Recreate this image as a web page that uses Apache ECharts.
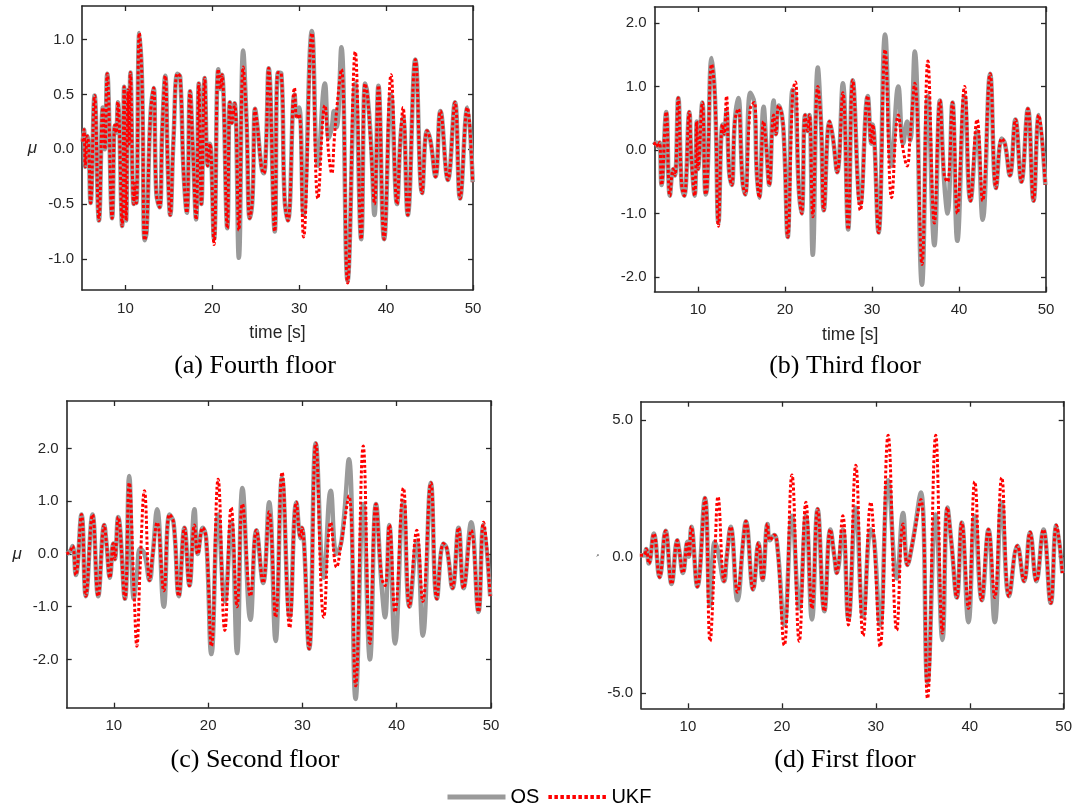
<!DOCTYPE html>
<html>
<head>
<meta charset="utf-8">
<script src="https://cdn.jsdelivr.net/npm/echarts@6/dist/echarts.min.js"></script>
<style>html,body{margin:0;padding:0;background:#fff;}#c{width:1081px;height:807px;}</style>
</head>
<body>
<div id="c"></div>
<script>
// ---------- data (extrema) ----------
const xTicks = [10, 20, 30, 40, 50];
const yTicksA = [-1.0, -0.5, 0.0, 0.5, 1.0];
const yTicksB = [-2.0, -1.0, 0.0, 1.0, 2.0];
const yTicksC = [-2.0, -1.0, 0.0, 1.0, 2.0];
const yTicksD = [-5.0, 0.0, 5.0];

// (a) Fourth floor
const tA = [5.08,5.23,5.38,5.61,5.76,5.99,6.45,6.95,7.40,7.63,
 7.90,8.47,8.78,8.93,9.12,9.62,9.85,10.08,10.31,10.44,
 10.57,10.95,11.11,11.26,11.60,11.91,12.21,12.44,12.86,13.24,
 13.55,13.93,14.24,14.58,14.89,15.15,15.53,15.99,16.30,16.68,
 17.06,17.44,17.75,18.13,18.44,18.74,19.12,19.47,19.73,20.19,
 20.69,20.95,21.11,21.72,22.02,22.25,22.56,23.05,23.55,23.93,
 24.31,24.62,24.92,25.19,25.65,25.92,26.15,26.49,27.18,27.56,
 27.94,28.32,28.70,29.46,29.73,30.00,30.50,31.46,32.15,32.95,
 33.40,33.75,34.00,34.30,34.85,35.57,36.45,37.13,37.58,37.85,
 38.27,38.66,39.12,39.77,40.57,41.25,41.65,41.95,42.49,43.37,
 44.14,44.71,45.10,45.69,46.25,47.11,47.93,48.51,49.35,49.96];
const osA = [0.07,0.18,-0.16,0.12,0.05,-0.49,0.49,-0.65,0.38,0.00,
 0.69,-0.63,0.22,0.15,0.43,-0.70,0.57,-0.65,0.54,0.05,
 0.70,-0.50,-0.31,-0.49,1.06,0.62,-0.83,-0.75,0.28,0.56,
 -0.40,-0.53,0.19,0.67,-0.19,-0.60,0.09,0.69,0.66,-0.19,
 -0.58,0.53,0.02,-0.64,0.60,-0.50,0.65,-0.15,0.05,-0.82,
 0.73,0.55,0.68,-0.72,0.43,0.24,0.42,-0.99,0.90,0.27,
 -0.63,-0.45,0.37,0.21,-0.16,-0.22,-0.04,0.74,-0.75,0.70,
 0.69,-0.46,-0.65,0.50,0.30,0.38,-0.60,1.08,-0.15,0.60,
 0.10,0.20,0.35,0.20,0.93,-1.20,0.60,-0.82,0.60,0.50,
 0.05,-0.60,0.58,-0.82,0.50,-0.50,0.10,0.30,-0.60,0.82,
 -0.40,0.17,0.08,-0.25,0.35,-0.28,0.43,-0.45,0.38,-0.30];
const ukfA = [0.07,0.18,-0.16,0.12,0.05,-0.49,0.49,-0.65,0.38,0.00,
 0.69,-0.63,0.22,0.15,0.43,-0.70,0.57,-0.65,0.54,0.05,
 0.70,-0.50,-0.31,-0.49,1.06,0.62,-0.83,-0.75,0.28,0.56,
 -0.40,-0.53,0.19,0.67,-0.19,-0.60,0.09,0.69,0.66,-0.19,
 -0.58,0.53,0.02,-0.64,0.60,-0.50,0.65,-0.15,0.05,-0.87,
 0.73,0.55,0.68,-0.72,0.43,0.24,0.42,-0.74,0.75,0.27,
 -0.63,-0.45,0.37,0.21,-0.16,-0.22,-0.04,0.74,-0.75,0.70,
 0.69,-0.46,-0.65,0.56,0.28,0.32,-0.80,1.06,-0.45,0.40,
 -0.05,-0.22,0.05,0.35,0.73,-1.22,0.89,-0.82,0.60,0.50,
 0.00,-0.50,0.58,-0.82,0.68,-0.50,0.10,0.38,-0.60,0.82,
 -0.40,0.17,0.08,-0.25,0.35,-0.28,0.43,-0.45,0.38,-0.30];

// (b) Third floor
const tB = [4.92,5.19,5.42,5.58,5.81,6.35,6.77,7.15,7.35,7.73,
 8.12,8.42,9.00,9.23,9.62,9.85,10.00,10.50,10.88,11.04,
 11.58,11.96,12.35,12.81,13.00,13.27,13.58,13.88,14.23,14.62,
 15.12,15.42,16.00,16.46,16.75,17.04,17.54,17.88,18.19,18.69,
 18.96,19.27,19.65,19.92,20.31,20.88,21.19,21.58,21.92,22.31,
 22.60,22.81,23.19,23.77,24.15,24.46,25.12,25.50,26.00,26.65,
 27.26,27.79,28.66,29.51,29.92,30.08,30.75,31.51,32.26,33.02,
 33.58,34.04,34.38,34.91,35.74,36.42,37.17,37.81,38.30,38.68,
 39.25,39.81,40.64,41.32,42.08,42.72,43.58,44.26,44.91,45.28,
 45.85,46.49,47.17,47.92,48.57,49.17,49.92];
const osB = [0.08,0.12,0.05,0.12,-0.55,0.60,-0.72,-0.30,-0.40,0.82,
 -0.55,-0.72,0.60,-0.10,-0.72,0.45,-0.30,0.75,-0.70,-0.60,
 1.45,0.80,-1.15,0.40,0.25,0.62,-0.35,-0.55,0.45,0.82,
 -0.50,-0.70,0.90,0.75,-0.35,-0.75,0.68,0.00,-0.55,0.78,
 0.25,0.70,0.55,0.05,-1.37,0.95,0.85,-0.60,-1.00,0.55,
 0.30,0.55,-1.65,1.30,0.40,-0.95,0.45,0.20,-0.35,1.05,
 -1.25,1.10,-0.85,0.85,0.10,0.40,-1.30,1.82,-0.25,1.00,
 0.10,0.45,0.15,1.55,-2.12,0.85,-1.50,0.78,-0.50,-1.00,
 0.75,-1.43,0.85,-0.80,0.30,-1.10,1.20,-0.60,0.18,0.10,
 -0.40,0.48,-0.50,0.65,-0.80,0.55,-0.55];
const ukfB = [0.08,0.12,0.05,0.12,-0.55,0.60,-0.72,-0.30,-0.40,0.82,
 -0.55,-0.72,0.60,-0.10,-0.72,0.45,-0.30,0.75,-0.70,-0.60,
 1.35,0.80,-1.20,0.40,0.25,0.85,-0.35,-0.55,0.45,0.65,
 -0.50,-0.70,0.65,0.75,-0.35,-0.75,0.45,0.00,-0.55,0.55,
 0.25,0.70,0.55,0.05,-1.37,0.90,1.07,-0.60,-1.00,0.55,
 0.30,0.55,-1.05,1.00,0.40,-0.95,0.45,0.20,-0.35,0.90,
 -1.25,1.10,-0.95,0.85,0.10,0.40,-1.30,1.58,-0.75,0.55,
 0.00,-0.25,0.20,1.05,-1.80,1.40,-1.15,0.78,-0.40,-0.50,
 0.75,-1.00,1.00,-0.80,0.48,-0.80,1.20,-0.60,0.18,0.10,
 -0.40,0.48,-0.50,0.65,-0.80,0.55,-0.55];

// (c) Second floor
const tC = [4.98,5.34,5.62,5.97,6.57,7.03,7.74,8.34,8.98,9.22,
 9.58,9.93,10.10,10.46,11.17,11.63,12.12,12.44,12.80,13.25,
 13.79,14.13,14.59,15.30,15.90,16.33,16.89,17.49,18.02,18.55,
 18.90,19.43,19.79,20.35,21.06,21.77,22.45,23.07,23.64,24.49,
 25.12,25.83,26.47,27.16,27.84,28.65,29.36,29.80,29.95,30.71,
 31.42,32.27,33.00,33.62,34.15,34.93,35.64,36.45,37.16,37.80,
 38.40,38.76,39.22,39.82,40.71,41.35,42.13,42.77,43.62,44.26,
 44.96,45.32,45.92,46.56,47.09,47.90,48.67,49.20,49.91];
const osC = [0.00,0.05,0.15,-0.40,0.75,-0.80,0.75,-0.80,0.55,0.20,
 -0.45,0.20,-0.10,0.70,-0.85,1.48,-0.85,-0.40,0.10,0.00,
 -0.50,0.00,0.85,-1.00,0.75,0.60,-0.80,0.50,-0.60,0.85,
 0.00,0.50,0.30,-1.90,0.75,-0.90,0.60,-1.88,1.25,-1.25,
 0.45,-0.55,0.98,-1.65,1.45,-1.20,0.98,0.30,0.50,-1.80,
 2.10,-0.45,1.20,0.00,0.25,1.80,-2.75,0.95,-2.00,0.95,
 -0.60,-1.20,0.55,-1.70,1.00,-1.00,0.25,-1.55,1.35,-0.85,
 0.20,0.10,-0.65,0.50,-0.65,0.60,-1.10,0.55,-0.80];
const ukfC = [0.00,0.05,0.15,-0.40,0.75,-0.80,0.75,-0.80,0.55,0.20,
 -0.45,0.20,-0.10,0.70,-0.85,1.35,-0.60,-1.75,-0.20,1.20,
 -0.50,0.00,0.60,-0.70,0.75,0.60,-0.80,0.50,-0.60,0.55,
 0.00,0.50,0.30,-1.75,1.42,-1.45,0.88,-1.00,0.95,-0.80,
 0.45,-0.55,0.80,-1.20,1.55,-1.40,0.98,0.30,0.50,-1.80,
 2.10,-1.20,0.60,-0.25,0.25,1.10,-2.50,2.05,-1.70,0.95,
 -0.45,-0.60,0.55,-1.10,1.25,-1.00,0.45,-0.90,1.35,-0.85,
 0.20,0.10,-0.65,0.50,-0.65,0.45,-1.10,0.60,-0.80];

// (d) First floor
const tD = [4.88,5.30,5.55,5.84,6.37,6.98,7.62,8.26,8.86,9.04,
 9.47,9.93,10.11,10.36,11.00,11.81,12.35,12.85,13.20,13.84,
 14.13,14.55,15.27,15.91,16.16,16.94,17.51,17.94,18.47,18.72,
 19.18,19.54,20.25,21.07,21.85,22.56,23.20,23.80,24.52,25.16,
 25.59,25.84,26.48,27.08,27.86,28.65,29.47,29.82,30.46,31.31,
 32.23,32.90,33.37,33.90,34.79,35.50,36.38,37.09,37.62,38.05,
 38.62,39.15,39.86,40.53,41.28,41.99,42.66,43.40,44.18,45.07,
 45.78,46.42,47.09,47.84,48.62,49.22,49.86];
const osD = [0.05,0.05,0.28,-0.25,0.85,-0.75,0.95,-1.00,0.60,0.30,
 -0.60,0.55,0.00,1.10,-1.10,2.15,-1.80,0.55,0.20,-0.90,
 0.00,1.10,-1.60,0.70,1.30,-1.20,0.50,-0.85,1.20,0.60,
 0.80,0.30,-2.50,1.50,-1.90,1.50,-2.30,1.75,-2.00,1.00,
 0.00,-0.60,1.00,-2.30,1.80,-2.20,1.00,0.60,-2.50,2.80,
 -0.80,1.60,-0.30,0.50,2.35,-4.60,1.55,-3.05,1.80,0.50,
 -1.50,1.25,-2.40,1.50,-1.60,1.00,-2.40,2.00,-1.45,0.40,
 -0.90,0.90,-0.90,1.00,-1.70,1.15,-0.60];
const ukfD = [0.05,0.05,0.28,-0.25,0.85,-0.75,0.95,-1.00,0.60,0.30,
 -0.60,0.55,0.00,1.10,-1.10,2.15,-3.10,0.00,2.20,-0.90,
 0.00,1.10,-1.30,0.70,1.30,-1.20,0.50,-0.85,1.20,0.60,
 0.80,0.30,-3.25,3.00,-3.10,2.00,-1.90,1.75,-2.00,1.00,
 0.00,-0.60,1.50,-2.50,3.35,-2.90,2.00,0.60,-3.30,4.45,
 -2.70,1.20,-0.30,0.50,2.10,-5.20,4.45,-2.80,1.80,0.50,
 -1.50,1.25,-1.90,2.75,-1.60,1.00,-1.50,2.90,-1.45,0.40,
 -0.90,0.90,-0.90,1.00,-1.70,1.15,-0.60];

const captions = ['(a) Fourth floor', '(b) Third floor', '(c) Second floor', '(d) First floor'];
const seriesNames = ['OS', 'UKF'];

// ---------- layout / style ----------
const panels = [
  {grid:{left:82, top:6, width:391, height:284}, ymin:-1.284, ymax:1.307, yt:yTicksA, t:tA, os:osA, ukf:ukfA, yname:'μ', xname:'time [s]'},
  {grid:{left:654.5, top:7, width:391.5, height:284.7}, ymin:-2.231, ymax:2.252, yt:yTicksB, t:tB, os:osB, ukf:ukfB, yname:'', xname:'time [s]'},
  {grid:{left:66.7, top:401, width:424.3, height:306.7}, ymin:-2.917, ymax:2.903, yt:yTicksC, t:tC, os:osC, ukf:ukfC, yname:'μ', xname:''},
  {grid:{left:641, top:401.7, width:422.7, height:306.6}, ymin:-5.559, ymax:5.684, yt:yTicksD, t:tD, os:osD, ukf:ukfD, yname:'μ', xname:'', tinyName:true}
];
const AX = '#262626';
const FONT = 'Liberation Sans, Arial, sans-serif';
const OS_STYLE = {color:'#9a9a9a', width:4.5};
const UKF_STYLE = {color:'#ff0000', width:3, type:[3,2.2]};

const grids = [], xAxes = [], yAxes = [], series = [];
panels.forEach((p, i) => {
  grids.push(Object.assign({containLabel:false}, p.grid));
  const baseLine = {show:true, onZero:false, lineStyle:{color:AX, width:1.6}};
  const tick = {show:true, inside:true, length:5, lineStyle:{color:AX, width:1.3}};
  xAxes.push({type:'value', gridIndex:i, min:5, max:50, position:'bottom',
    axisLine:baseLine, splitLine:{show:false},
    axisTick:Object.assign({customValues:xTicks}, tick),
    axisLabel:{customValues:xTicks, margin:11, color:AX, fontSize:15, fontFamily:FONT, formatter:v=>String(Math.round(v))},
    name:p.xname, nameLocation:'middle', nameGap:34, nameTextStyle:{color:AX, fontSize:17.5, fontFamily:FONT}});
  xAxes.push({type:'value', gridIndex:i, min:5, max:50, position:'top',
    axisLine:baseLine, splitLine:{show:false},
    axisTick:Object.assign({customValues:xTicks}, tick), axisLabel:{show:false}});
  yAxes.push({type:'value', gridIndex:i, min:p.ymin, max:p.ymax, position:'left',
    axisLine:baseLine, splitLine:{show:false},
    axisTick:Object.assign({customValues:p.yt}, tick),
    axisLabel:{customValues:p.yt, margin:8, color:AX, fontSize:15, fontFamily:FONT, formatter:v=>v.toFixed(1)},
    name:p.yname, nameLocation:'middle', nameGap:p.tinyName?42:45, nameRotate:0,
    nameTextStyle:{color:AX, fontSize:p.tinyName?4:17, fontStyle:'italic', fontFamily:FONT}});
  yAxes.push({type:'value', gridIndex:i, min:p.ymin, max:p.ymax, position:'right',
    axisLine:baseLine, splitLine:{show:false},
    axisTick:Object.assign({customValues:p.yt}, tick), axisLabel:{show:false}});
  series.push({name:seriesNames[0], type:'line', xAxisIndex:2*i, yAxisIndex:2*i,
    data:p.t.map((t,k)=>[t, p.os[k]]), symbol:'none', showSymbol:false, smooth:0.45, z:2,
    lineStyle:OS_STYLE, itemStyle:{color:OS_STYLE.color}, animation:false});
  series.push({name:seriesNames[1], type:'line', xAxisIndex:2*i, yAxisIndex:2*i,
    data:p.t.map((t,k)=>[t, p.ukf[k]]), symbol:'none', showSymbol:false, smooth:0.45, z:3,
    lineStyle:UKF_STYLE, itemStyle:{color:UKF_STYLE.color}, animation:false});
});

const capPos = [[255,366],[845,366],[255,760],[845,760]];
const graphics = captions.map((c, i) => ({type:'text', x:capPos[i][0], y:capPos[i][1],
  style:{text:c, font:'26px "Liberation Serif", "Times New Roman", serif', fill:'#000', textAlign:'center', textVerticalAlign:'middle'}}));

const hidden = {opacity:0, color:'rgba(0,0,0,0)', borderWidth:0};
const chart = echarts.init(document.getElementById('c'), null, {renderer:'canvas'});
chart.setOption({
  animation:false,
  backgroundColor:'#fff',
  grid:grids, xAxis:xAxes, yAxis:yAxes, series:series,
  legend:{left:440, top:782, itemWidth:58, itemHeight:14, itemGap:7,
    data:[
      {name:'OS', itemStyle:hidden, lineStyle:{color:OS_STYLE.color, width:5, type:'solid'}},
      {name:'UKF', itemStyle:hidden, lineStyle:{color:UKF_STYLE.color, width:4, type:[3.5,2.5]}}
    ],
    textStyle:{fontSize:20, color:'#000', fontFamily:FONT}},
  graphic:graphics
});
</script>
</body>
</html>
